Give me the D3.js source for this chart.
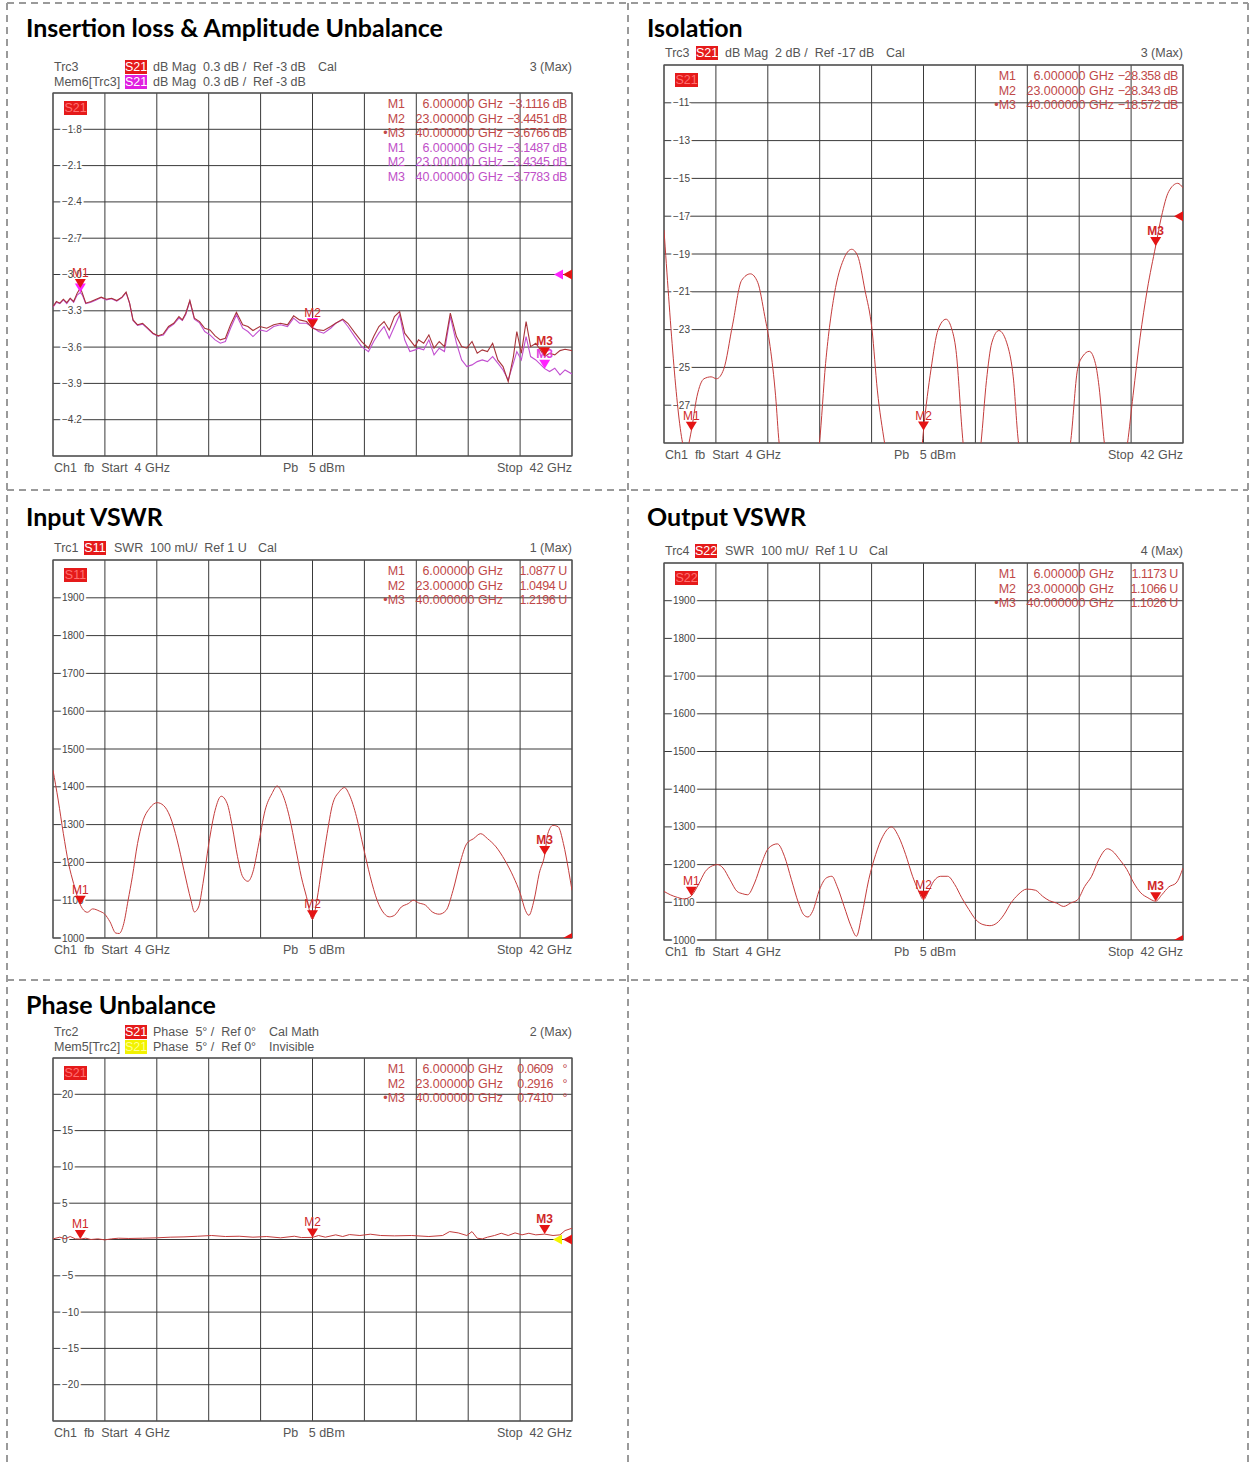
<!DOCTYPE html>
<html>
<head>
<meta charset="utf-8">
<script src="https://cdn.jsdelivr.net/npm/d3@7"></script>
<style>
body { margin: 0; background: #fff; }
svg text { font-family: "Liberation Sans", Arial, sans-serif; }
.title { font-family: Lato, "Open Sans", sans-serif !important; font-weight: 700; font-size: 25px; fill: #000; }
.hdr { font-size: 12.5px; fill: #555; white-space: pre; }
.tick { font-size: 10px; fill: #444; stroke: #fff; stroke-width: 4px; paint-order: stroke; }
.tbl { font-size: 12.5px; white-space: pre; }
.tblv { letter-spacing: -0.4px; }
.mk { font-size: 12px; }
</style>
</head>
<body>
<script>
// ---- Insertion loss (dB), Trc3 and Mem6 ----
var ilFreq = [4.00, 4.25, 4.50, 4.76, 5.01, 5.26, 5.51, 5.77, 6.00, 6.15,
  6.40, 6.78, 7.16, 7.53, 7.91, 8.29, 8.67, 9.05, 9.35, 9.61,
  9.86, 10.19, 10.56, 10.94, 11.32, 11.70, 12.08, 12.46, 12.84, 13.22,
  13.47, 13.72, 14.02, 14.35, 14.73, 15.11, 15.49, 15.87, 16.25, 16.62,
  17.00, 17.43, 17.89, 18.27, 18.64, 19.15, 19.65, 20.16, 20.66, 21.17,
  21.62, 22.05, 22.56, 23.00, 23.44, 23.82, 24.33, 24.70, 25.21, 25.59,
  26.09, 26.60, 27.10, 27.48, 27.86, 28.24, 28.62, 29.00, 29.38, 29.75,
  30.13, 30.51, 30.76, 31.14, 31.52, 31.90, 32.28, 32.66, 33.09, 33.54,
  33.92, 34.30, 34.68, 35.06, 35.43, 35.81, 36.19, 36.57, 36.95, 37.33,
  37.71, 37.96, 38.29, 38.64, 38.97, 39.35, 40.00, 40.36, 40.74, 41.12,
  41.49, 42.00];
var ilTrc = [-3.265, -3.223, -3.237, -3.204, -3.232, -3.196, -3.223, -3.154, -3.112, -3.154,
  -3.237, -3.223, -3.204, -3.187, -3.204, -3.196, -3.215, -3.187, -3.146, -3.237,
  -3.375, -3.416, -3.403, -3.444, -3.485, -3.507, -3.491, -3.430, -3.403, -3.347,
  -3.375, -3.320, -3.215, -3.361, -3.389, -3.444, -3.458, -3.507, -3.540, -3.527,
  -3.416, -3.312, -3.416, -3.430, -3.463, -3.430, -3.444, -3.416, -3.403, -3.416,
  -3.342, -3.375, -3.389, -3.445, -3.458, -3.463, -3.430, -3.403, -3.369, -3.403,
  -3.480, -3.554, -3.609, -3.513, -3.430, -3.389, -3.458, -3.347, -3.306, -3.485,
  -3.540, -3.596, -3.540, -3.568, -3.499, -3.609, -3.554, -3.596, -3.320, -3.513,
  -3.596, -3.609, -3.554, -3.651, -3.623, -3.637, -3.568, -3.706, -3.761, -3.885,
  -3.678, -3.471, -3.651, -3.389, -3.596, -3.568, -3.677, -3.651, -3.664, -3.629,
  -3.618, -3.629];
var ilMem = [-3.270, -3.230, -3.240, -3.210, -3.240, -3.200, -3.230, -3.170, -3.149, -3.170,
  -3.240, -3.230, -3.210, -3.190, -3.210, -3.200, -3.220, -3.190, -3.150, -3.240,
  -3.380, -3.420, -3.410, -3.450, -3.490, -3.510, -3.500, -3.440, -3.410, -3.360,
  -3.380, -3.330, -3.220, -3.370, -3.400, -3.471, -3.499, -3.540, -3.568, -3.554,
  -3.444, -3.334, -3.444, -3.471, -3.513, -3.458, -3.471, -3.430, -3.416, -3.430,
  -3.361, -3.403, -3.403, -3.435, -3.471, -3.485, -3.444, -3.403, -3.375, -3.430,
  -3.513, -3.596, -3.637, -3.554, -3.485, -3.430, -3.527, -3.430, -3.334, -3.540,
  -3.637, -3.623, -3.609, -3.623, -3.540, -3.664, -3.609, -3.637, -3.347, -3.568,
  -3.706, -3.761, -3.747, -3.720, -3.706, -3.720, -3.678, -3.733, -3.789, -3.871,
  -3.733, -3.637, -3.706, -3.513, -3.678, -3.706, -3.778, -3.802, -3.775, -3.830,
  -3.789, -3.822];
var ilTicks = [-1.8, -2.1, -2.4, -2.7, -3.0, -3.3, -3.6, -3.9, -4.2];

// ---- Isolation (dB) ----
var isoFreq = [4.00, 5.36, 5.55, 6.00, 6.41, 6.93, 7.45, 7.85, 8.37, 9.02,
  9.68, 10.33, 10.86, 11.38, 11.77, 12.17, 12.43, 13.87, 15.38, 15.83,
  16.48, 17.14, 17.74, 18.18, 18.71, 19.23, 19.62, 20.15, 21.59, 22.89,
  23.00, 23.55, 24.07, 24.65, 25.04, 25.38, 25.90, 26.56, 27.21, 27.61,
  28.00, 28.52, 29.18, 29.57, 29.96, 31.79, 33.76, 34.28, 34.67, 35.14,
  35.59, 35.85, 36.24, 37.03, 37.94, 38.34, 38.86, 39.38, 40.00, 40.43,
  40.95, 41.61, 42.00];
var isoVal = [-17.73, -29.0, -29.6, -28.36, -26.55, -25.6, -25.5, -25.6, -25.1, -22.75,
  -20.4, -20.05, -20.5, -22.3, -23.9, -26.5, -29.0, -34, -29.0, -24.8,
  -21.1, -19.3, -18.75, -19.1, -20.9, -23.0, -26.2, -29.0, -34, -29.2,
  -28.34, -25.1, -23.0, -22.45, -22.9, -24.1, -29.0, -32, -29.0, -25.7,
  -23.7, -23.05, -23.9, -25.5, -29.0, -34, -29.0, -25.1, -24.4, -24.15,
  -24.8, -26.0, -29.0, -32, -29.0, -26.5, -23.4, -20.9, -18.57, -17.0,
  -15.7, -15.26, -15.5];
var isoTicks = [-11, -13, -15, -17, -19, -21, -23, -25, -27];

// ---- Input VSWR (mU) ----
var inFreq = [4.00, 4.38, 4.76, 5.14, 5.51, 6.00, 6.15, 6.52, 6.90, 7.41,
  7.79, 8.17, 8.60, 8.85, 9.18, 9.50, 9.81, 10.19, 10.56, 11.07,
  11.63, 12.08, 12.58, 13.09, 13.59, 14.10, 14.35, 14.66, 14.98, 15.41,
  15.87, 16.32, 16.75, 17.13, 17.51, 17.89, 18.27, 18.64, 19.02, 19.53,
  20.03, 20.41, 20.79, 21.30, 21.80, 22.18, 22.56, 23.00, 23.32, 23.69,
  24.07, 24.45, 24.96, 25.34, 25.71, 26.22, 26.72, 27.23, 27.73, 28.24,
  28.62, 29.00, 29.50, 30.01, 30.39, 30.76, 31.27, 31.77, 32.28, 32.78,
  33.29, 33.79, 34.30, 34.80, 35.31, 35.81, 36.44, 37.08, 37.71, 38.21,
  38.59, 38.84, 39.22, 39.60, 40.00, 40.23, 40.61, 40.99, 41.37, 41.75,
  42.00];
var inVal = [1444, 1365, 1276, 1197, 1144, 1088, 1078, 1068, 1077, 1071,
  1063, 1043, 1013, 1012, 1038, 1100, 1162, 1250, 1307, 1343,
  1358, 1351, 1321, 1259, 1179, 1100, 1069, 1082, 1144, 1250,
  1338, 1375, 1356, 1294, 1215, 1162, 1150, 1175, 1241, 1338,
  1382, 1402, 1382, 1321, 1232, 1162, 1109, 1049, 1100, 1188,
  1276, 1351, 1387, 1398, 1378, 1321, 1241, 1162, 1100, 1065,
  1056, 1060, 1082, 1091, 1100, 1093, 1087, 1069, 1063, 1073,
  1126, 1197, 1250, 1263, 1276, 1263, 1241, 1206, 1162, 1118,
  1073, 1060, 1100, 1171, 1220, 1276, 1298, 1294, 1250, 1179,
  1126];

// ---- Output VSWR (mU) ----
var outFreq = [4.00, 4.46, 4.98, 5.49, 6.00, 6.52, 7.03, 7.55, 7.93, 8.32,
  8.83, 9.35, 9.73, 10.12, 10.63, 11.15, 11.66, 12.30, 12.82, 13.33,
  13.85, 14.23, 14.54, 14.88, 15.39, 15.90, 16.29, 16.68, 17.19, 17.70,
  18.09, 18.47, 18.99, 19.50, 20.02, 20.66, 21.17, 21.69, 22.20, 22.59,
  23.00, 23.36, 23.75, 24.26, 24.77, 25.29, 25.80, 26.32, 26.83, 27.35,
  27.86, 28.37, 28.89, 29.40, 29.92, 30.56, 31.20, 31.72, 32.23, 32.74,
  33.26, 33.77, 34.29, 34.80, 35.31, 35.83, 36.47, 36.86, 37.37, 37.89,
  38.40, 38.91, 39.43, 40.00, 40.45, 40.97, 41.49, 42.00];
var outVal = [1129, 1120, 1113, 1109, 1117, 1147, 1182, 1197, 1200, 1191,
  1160, 1129, 1123, 1120, 1151, 1204, 1244, 1255, 1222, 1160,
  1098, 1067, 1061, 1076, 1134, 1165, 1169, 1142, 1089, 1036,
  1010, 1063, 1160, 1227, 1275, 1300, 1275, 1227, 1169, 1134,
  1107, 1129, 1156, 1169, 1169, 1147, 1112, 1081, 1054, 1041,
  1038, 1045, 1067, 1098, 1120, 1135, 1132, 1116, 1104, 1098,
  1089, 1098, 1107, 1142, 1169, 1213, 1242, 1235, 1213, 1187,
  1151, 1125, 1112, 1103, 1120, 1141, 1151, 1191];
var swrTicks = [1000, 1100, 1200, 1300, 1400, 1500, 1600, 1700, 1800, 1900];

// ---- Phase unbalance (deg) ----
var phFreq = [4.00, 4.50, 4.88, 5.26, 5.64, 6.00, 6.40, 6.78, 7.28, 7.79,
  8.29, 8.80, 9.55, 10.56, 11.57, 12.58, 13.59, 14.60, 15.61, 16.62,
  17.63, 18.64, 19.65, 20.66, 21.67, 22.18, 23.00, 23.44, 23.94, 24.70,
  25.21, 25.71, 26.47, 27.23, 27.99, 29.00, 30.26, 31.52, 32.53, 33.04,
  33.67, 34.30, 34.68, 35.06, 35.43, 35.81, 36.32, 36.82, 37.33, 37.83,
  38.34, 38.84, 39.35, 40.00, 40.61, 41.12, 41.49, 42.00];
var phVal = [0.09, 0.32, 0.09, 0.41, 0.09, 0.061, 0.18, 0.0, 0.09, -0.05,
  0.09, 0.18, 0.14, 0.18, 0.23, 0.32, 0.36, 0.45, 0.55, 0.41,
  0.45, 0.32, 0.41, 0.23, 0.45, 0.27, 0.292, 0.55, 0.32, 0.64,
  0.41, 0.68, 0.55, 0.73, 0.55, 0.50, 0.55, 0.41, 0.55, 1.09,
  0.91, 0.55, 1.09, 0.18, 0.09, 0.32, 0.55, 0.86, 0.55, 0.91,
  0.64, 0.86, 0.64, 0.741, 0.55, 0.64, 1.23, 1.55];
var phTicks = [20, 15, 10, 5, 0, -5, -10, -15, -20];

// ---- markers ----
var markFreq = [6, 23, 40];
var markNames = ["M1", "M2", "\u2022M3"];
var ilMarkTrc = [-3.1116, -3.4451, -3.6766];
var ilMarkMem = [-3.1487, -3.4345, -3.7783];
var isoMark = [-28.358, -28.343, -18.572];
var inMark = [1.0877, 1.0494, 1.2196];
var outMark = [1.1173, 1.1066, 1.1026];
var phMark = [0.0609, 0.2916, 0.7410];

var RED = "#c43c3c", REDDK = "#a8343a", MAG = "#c24fd0";
var TRI = "#e41414", TRIMAG = "#ff22ff";
var TBL = "#c04848", TBLMAG = "#c050c8";
var BOXRED = "#e51a1a", BOXMAG = "#e020e0", BOXYEL = "#f2f200";

var svg = d3.select("body").append("svg")
  .attr("width", 1258)
  .attr("height", 1464);

// dashed frame
var dash = [[7, 3, 1248, 3], [7, 490, 1248, 490], [7, 980, 1248, 980],
  [7, 3, 7, 1464], [628, 3, 628, 1464], [1248, 3, 1248, 1464]];
svg.selectAll("line.frame").data(dash).enter().append("line")
  .attr("class", "frame")
  .attr("x1", function (d) { return d[0]; })
  .attr("y1", function (d) { return d[1]; })
  .attr("x2", function (d) { return d[2]; })
  .attr("y2", function (d) { return d[3]; })
  .attr("stroke", "#9a9a9a")
  .attr("stroke-width", 2)
  .attr("stroke-dasharray", "7,5");

var fmtF = d3.format(".6f");
var clipId = 0;

function panel(p) {
  var x = d3.scaleLinear().domain([4, 42]).range([p.x, p.x + p.w]);
  var y = d3.scaleLinear().domain(p.dom).range([p.y + p.h, p.y]);
  var right = p.x + p.w, bottom = p.y + p.h;
  var g = svg.append("g");

  g.append("text").attr("class", "title").attr("x", p.tx).attr("y", p.ty).text(p.title);

  // header lines above the diagram
  p.header.forEach(function (row, i) {
    var by = p.y - (p.header.length === 2 ? 22 - i * 15 : 8);
    row.forEach(function (it) {
      if (it.box) {
        g.append("rect").attr("x", p.x + it.dx).attr("y", by - 11)
          .attr("width", 22).attr("height", 14).attr("fill", it.fill);
        g.append("text").attr("class", "hdr").attr("x", p.x + it.dx + 11).attr("y", by)
          .attr("text-anchor", "middle").style("fill", it.tc).text(it.box);
      } else {
        g.append("text").attr("class", "hdr")
          .attr("x", it.right ? right : p.x + it.dx).attr("y", by)
          .attr("text-anchor", it.right ? "end" : "start").text(it.t);
      }
    });
  });

  // grid
  var xs = d3.range(11).map(function (k) { return 4 + k * 3.8; });
  var ys = d3.range(11).map(function (k) { return p.dom[0] + k * (p.dom[1] - p.dom[0]) / 10; });
  g.selectAll("line.vg").data(xs).enter().append("line")
    .attr("x1", function (d) { return x(d); }).attr("x2", function (d) { return x(d); })
    .attr("y1", p.y).attr("y2", bottom)
    .attr("stroke", "#3a3a3a").attr("stroke-width", 1);
  g.selectAll("line.hg").data(ys).enter().append("line")
    .attr("y1", function (d) { return y(d); }).attr("y2", function (d) { return y(d); })
    .attr("x1", p.x).attr("x2", right)
    .attr("stroke", "#3a3a3a").attr("stroke-width", 1);
  g.append("rect").attr("x", p.x).attr("y", p.y).attr("width", p.w).attr("height", p.h)
    .attr("fill", "none").attr("stroke", "#555").attr("stroke-width", 1.2);

  // y labels
  g.selectAll("text.tick").data(p.ticks).enter().append("text")
    .attr("class", "tick")
    .attr("x", p.x + 9)
    .attr("y", function (d) { return y(d) + 3.5; })
    .text(function (d) { return p.tickFmt(d); });

  // channel box
  g.append("rect").attr("x", p.x + 11).attr("y", p.y + 8).attr("width", 23).attr("height", 14)
    .attr("fill", BOXRED);
  g.append("text").attr("class", "hdr").attr("x", p.x + 22.5).attr("y", p.y + 19)
    .attr("text-anchor", "middle").style("fill", "#ff7070").text(p.chan);

  // marker table
  p.table.forEach(function (r, i) {
    var by = p.y + 15 + i * 14.6;
    g.append("text").attr("class", "tbl").attr("x", right - 167).attr("y", by)
      .attr("text-anchor", "end").style("fill", r.color).text(r.name);
    g.append("text").attr("class", "tbl").attr("x", right - 69).attr("y", by)
      .attr("text-anchor", "end").style("fill", r.color).text(fmtF(r.f) + " GHz");
    g.append("text").attr("class", "tbl tblv").attr("x", right - 5).attr("y", by)
      .attr("text-anchor", "end").style("fill", r.color).text(r.val);
  });

  // traces, clipped to the diagram
  var cid = "clip" + (clipId++);
  g.append("clipPath").attr("id", cid).append("rect")
    .attr("x", p.x).attr("y", p.y).attr("width", p.w).attr("height", p.h);
  var plot = g.append("g").attr("clip-path", "url(#" + cid + ")");
  p.series.forEach(function (s) {
    var line = d3.line()
      .x(function (d) { return x(d[0]); })
      .y(function (d) { return y(d[1]); })
      .curve(s.curve || d3.curveLinear);
    plot.append("path").datum(d3.zip(s.f, s.v))
      .attr("d", line).attr("fill", "none")
      .attr("stroke", s.color).attr("stroke-width", s.width || 1);
  });

  // reference level arrows on the right edge
  p.refs.forEach(function (r) {
    var ty = y(r.v), tx = right - r.off;
    plot.append("path")
      .attr("d", "M" + tx + "," + (ty - 5) + "L" + tx + "," + (ty + 5) + "L" + (tx - 9) + "," + ty + "Z")
      .attr("fill", r.color);
  });

  // markers
  p.marks.forEach(function (m) {
    m.vals.forEach(function (v, i) {
      var cx = x(markFreq[i]), ty = y(v * (m.mul || 1));
      g.append("path")
        .attr("d", "M" + (cx - 5.5) + "," + (ty - 9) + "L" + (cx + 5.5) + "," + (ty - 9) + "L" + cx + "," + ty + "Z")
        .attr("fill", m.color);
      if (m.labels && m.labels.indexOf(i) < 0) return;
      g.append("text").attr("class", "mk").attr("x", cx).attr("y", ty - 11)
        .attr("text-anchor", "middle")
        .style("fill", m.label)
        .style("font-weight", i === 2 ? 700 : 400)
        .text("M" + (i + 1));
    });
  });

  // footer
  g.append("text").attr("class", "hdr").attr("x", p.x + 1).attr("y", bottom + 16).text("Ch1  fb  Start  4 GHz");
  g.append("text").attr("class", "hdr").attr("x", p.x + 230).attr("y", bottom + 16).text("Pb   5 dBm");
  g.append("text").attr("class", "hdr").attr("x", right).attr("y", bottom + 16)
    .attr("text-anchor", "end").text("Stop  42 GHz");
}

function rows(vals, fmt, unit, color) {
  return vals.map(function (v, i) {
    return { name: markNames[i], f: markFreq[i], val: fmt(v) + unit, color: color };
  });
}

var f4 = d3.format(".4f"), f3 = d3.format(".3f");

panel({
  title: "Insertion loss & Amplitude Unbalance", tx: 26, ty: 37,
  x: 53, y: 93, w: 519, h: 363, dom: [-4.5, -1.5],
  ticks: ilTicks, tickFmt: d3.format(".1f"), chan: "S21",
  header: [
    [{ t: "Trc3", dx: 1 }, { box: "S21", dx: 72, fill: BOXRED, tc: "#fff" },
     { t: "dB Mag  0.3 dB /  Ref -3 dB", dx: 100 }, { t: "Cal", dx: 265 }, { t: "3 (Max)", right: true }],
    [{ t: "Mem6[Trc3]", dx: 1 }, { box: "S21", dx: 72, fill: BOXMAG, tc: "#fff" },
     { t: "dB Mag  0.3 dB /  Ref -3 dB", dx: 100 }]
  ],
  table: rows(ilMarkTrc, f4, " dB", TBL).concat(rows(ilMarkMem, f4, " dB", TBLMAG).map(function (r, i) {
    r.name = "M" + (i + 1); return r;
  })),
  series: [
    { f: ilFreq, v: ilMem, color: MAG, width: 1.1 },
    { f: ilFreq, v: ilTrc, color: REDDK, width: 1.1 }
  ],
  refs: [{ v: -3, off: 9, color: TRIMAG }, { v: -3, off: 0, color: TRI }],
  marks: [
    { vals: ilMarkMem, color: TRIMAG, label: "#e040e0", labels: [2] },
    { vals: ilMarkTrc, color: TRI, label: "#d02828" }
  ]
});

panel({
  title: "Isolation", tx: 647, ty: 37,
  x: 664, y: 65, w: 519, h: 378, dom: [-29, -9],
  ticks: isoTicks, tickFmt: d3.format("d"), chan: "S21",
  header: [
    [{ t: "Trc3", dx: 1 }, { box: "S21", dx: 32, fill: BOXRED, tc: "#fff" },
     { t: "dB Mag  2 dB /  Ref -17 dB", dx: 61 }, { t: "Cal", dx: 222 }, { t: "3 (Max)", right: true }]
  ],
  table: rows(isoMark, f3, " dB", TBL),
  series: [{ f: isoFreq, v: isoVal, color: RED, curve: d3.curveMonotoneX }],
  refs: [{ v: -17, off: 0, color: TRI }],
  marks: [{ vals: isoMark, color: TRI, label: "#d02828" }]
});

panel({
  title: "Input VSWR", tx: 26, ty: 526,
  x: 53, y: 560, w: 519, h: 378, dom: [1000, 2000],
  ticks: swrTicks, tickFmt: d3.format("d"), chan: "S11",
  header: [
    [{ t: "Trc1", dx: 1 }, { box: "S11", dx: 31, fill: BOXRED, tc: "#fff" },
     { t: "SWR  100 mU/  Ref 1 U", dx: 61 }, { t: "Cal", dx: 205 }, { t: "1 (Max)", right: true }]
  ],
  table: rows(inMark, f4, " U", TBL),
  series: [{ f: inFreq, v: inVal, color: RED, curve: d3.curveMonotoneX }],
  refs: [{ v: 1000, off: 0, color: TRI }],
  marks: [{ vals: inMark, mul: 1000, color: TRI, label: "#d02828" }]
});

panel({
  title: "Output VSWR", tx: 647, ty: 526,
  x: 664, y: 563, w: 519, h: 377, dom: [1000, 2000],
  ticks: swrTicks, tickFmt: d3.format("d"), chan: "S22",
  header: [
    [{ t: "Trc4", dx: 1 }, { box: "S22", dx: 31, fill: BOXRED, tc: "#fff" },
     { t: "SWR  100 mU/  Ref 1 U", dx: 61 }, { t: "Cal", dx: 205 }, { t: "4 (Max)", right: true }]
  ],
  table: rows(outMark, f4, " U", TBL),
  series: [{ f: outFreq, v: outVal, color: RED, curve: d3.curveMonotoneX }],
  refs: [{ v: 1000, off: 0, color: TRI }],
  marks: [{ vals: outMark, mul: 1000, color: TRI, label: "#d02828" }]
});

panel({
  title: "Phase Unbalance", tx: 26, ty: 1014,
  x: 53, y: 1058, w: 519, h: 363, dom: [-25, 25],
  ticks: phTicks, tickFmt: d3.format("d"), chan: "S21",
  header: [
    [{ t: "Trc2", dx: 1 }, { box: "S21", dx: 72, fill: BOXRED, tc: "#fff" },
     { t: "Phase  5\u00b0 /  Ref 0\u00b0", dx: 100 }, { t: "Cal Math", dx: 216 }, { t: "2 (Max)", right: true }],
    [{ t: "Mem5[Trc2]", dx: 1 }, { box: "S21", dx: 72, fill: BOXYEL, tc: "#ffff90" },
     { t: "Phase  5\u00b0 /  Ref 0\u00b0", dx: 100 }, { t: "Invisible", dx: 216 }]
  ],
  table: rows(phMark, f4, "   \u00b0", TBL),
  series: [{ f: phFreq, v: phVal, color: RED }],
  refs: [{ v: 0, off: 10, color: "#f4f400" }, { v: 0, off: 0, color: TRI }],
  marks: [{ vals: phMark, color: TRI, label: "#d02828" }]
});
</script>
</body>
</html>
